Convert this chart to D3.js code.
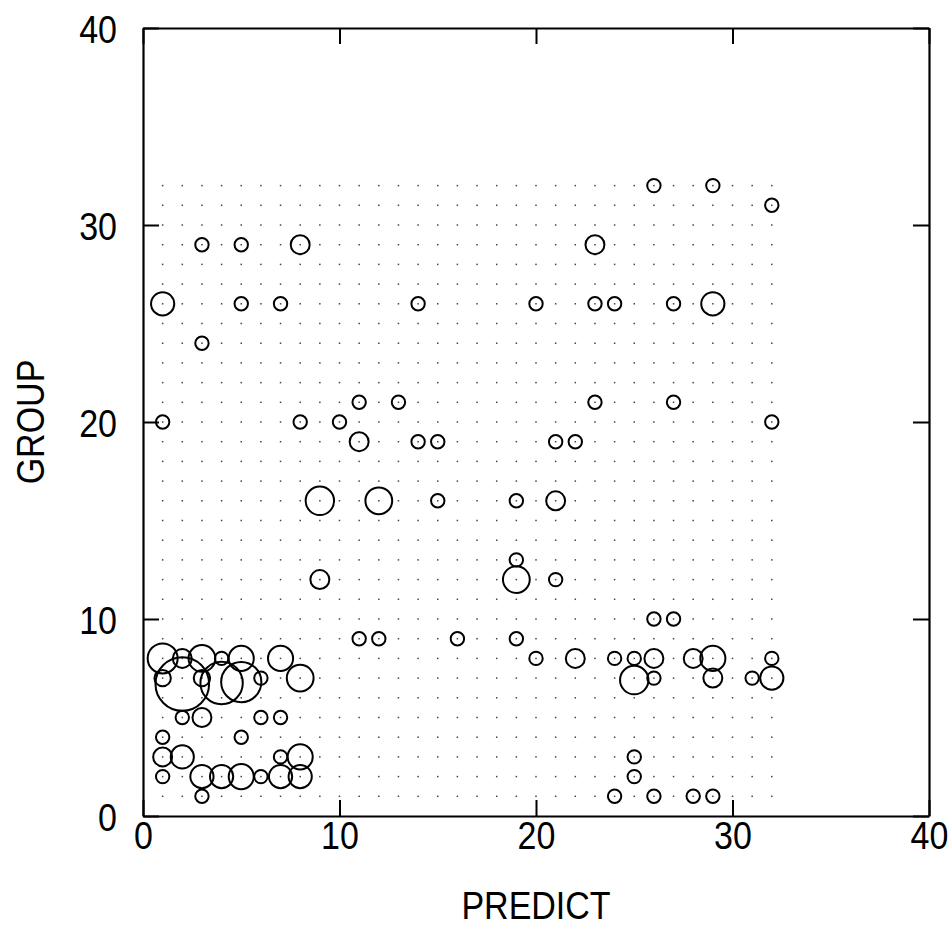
<!DOCTYPE html>
<html>
<head>
<meta charset="utf-8">
<script src="https://cdn.jsdelivr.net/npm/d3@7"></script>
<style>
  html, body { margin: 0; padding: 0; background: #fff; }
  svg { display: block; }
  text { font-family: "Liberation Sans", Arial, sans-serif; fill: #000; }
</style>
</head>
<body>
<svg id="chart" width="952" height="943"></svg>
<script>
// ---- data ----
const predict = [26,29,32, 3,5,8,23, 1,5,7,14,20,23,24,27,29, 3, 11,13,23,27, 1,8,10,32,
  11,14,15,21,22, 9,12,15,19,21, 19, 9,19,21, 26,27, 11,12,16,19,
  1,2,3,4,5,7,20,22,24,25,26,28,29,32,
  1,2,3,4,5,6,8,25,26,29,31,32,
  2,3,6,7, 1,5, 1,2,7,8,25, 1,3,4,5,6,7,8,25, 3,24,26,28,29];
const group = [32,32,31, 29,29,29,29, 26,26,26,26,26,26,26,26,26, 24, 21,21,21,21, 20,20,20,20,
  19,19,19,19,19, 16,16,16,16,16, 13, 12,12,12, 10,10, 9,9,9,9,
  8,8,8,8,8,8,8,8,8,8,8,8,8,8,
  7,6.7,7,6.75,6.8,7,7,6.9,7,7,7,7,
  5,5,5,5, 4,4, 3,3,3,3,3, 2,2,2,2,2,2,2,2, 1,1,1,1,1];
const count = [1,1,1, 1,1,2,2, 3,1,1,1,1,1,1,1,3, 1, 1,1,1,1, 1,1,1,1,
  2,1,1,1,1, 4.5,4,1,1,2, 1, 2,4,1, 1,1, 1,1,1,1,
  5,2,4,1,3.5,3.5,1,2,1,1,2,2,3.5,1,
  1.5,16,1.5,10,9,1,4,4.5,1,2,1,3,
  1,2,1,1, 1,1, 2,3,1,3.5,1, 1,3,3,3.5,1,3,3,1, 1,1,1,1,1];
const xTicks = [0, 10, 20, 30, 40];
const yTicks = [0, 10, 20, 30, 40];
const gridX = d3.range(1, 33);
const gridY = d3.range(1, 33);
const xTitle = "PREDICT";
const yTitle = "GROUP";

// ---- layout ----
const svg = d3.select("#chart");
const x = d3.scaleLinear().domain([0, 40]).range([143, 929]);
const y = d3.scaleLinear().domain([0, 40]).range([816, 28]);
const r = d3.scaleSqrt().domain([0, 16]).range([0, 26.8]);
const tickLen = 16;
const FONT = '"Liberation Sans", Arial, sans-serif';
const FS = "34px";
const SY = 1.16;   // vertical stretch to mimic the tall condensed face

// dot grid
const dots = [];
gridY.forEach(gy => gridX.forEach(gx => dots.push([gx, gy])));
svg.append("g").selectAll("rect").data(dots).join("rect")
  .attr("x", d => x(d[0]) - 0.75)
  .attr("y", d => y(d[1]) - 0.75)
  .attr("width", 1.5).attr("height", 1.5)
  .attr("fill", "#444");

// bubbles
const pts = predict.map((p, i) => ({x: p, y: group[i], n: count[i]}));
svg.append("g").selectAll("circle").data(pts).join("circle")
  .attr("cx", d => x(d.x))
  .attr("cy", d => y(d.y))
  .attr("r", d => r(d.n))
  .attr("fill", "none")
  .attr("stroke", "#000")
  .attr("stroke-width", 2);

// axes (inward ticks on all sides)
const fmt = d3.format("d");
const gB = svg.append("g").attr("transform", `translate(0,${y(0)})`)
  .call(d3.axisBottom(x).tickValues(xTicks).tickSizeInner(-tickLen).tickSizeOuter(0).tickFormat(fmt));
const gT = svg.append("g").attr("transform", `translate(0,${y(40)})`)
  .call(d3.axisTop(x).tickValues(xTicks).tickSizeInner(-tickLen).tickSizeOuter(0).tickFormat(""));
const gL = svg.append("g").attr("transform", `translate(${x(0)},0)`)
  .call(d3.axisLeft(y).tickValues(yTicks).tickSizeInner(-tickLen).tickSizeOuter(0).tickFormat(fmt));
const gR = svg.append("g").attr("transform", `translate(${x(40)},0)`)
  .call(d3.axisRight(y).tickValues(yTicks).tickSizeInner(-tickLen).tickSizeOuter(0).tickFormat(""));

[gB, gT, gL, gR].forEach(g => {
  g.select(".domain").attr("stroke", "#000").attr("stroke-width", 2.2);
  g.selectAll(".tick line").attr("stroke", "#000").attr("stroke-width", 2);
});
gB.selectAll(".tick text")
  .attr("y", 0).attr("dy", null)
  .attr("transform", `translate(0,33) scale(1,${SY})`)
  .style("font-size", FS).style("font-family", FONT)
  .attr("fill", "#000");
gL.selectAll(".tick text")
  .attr("x", 0).attr("dy", null)
  .attr("transform", `translate(-26,14) scale(1,${SY})`)
  .style("font-size", FS).style("font-family", FONT)
  .attr("fill", "#000");

// axis titles
svg.append("text")
  .attr("transform", `translate(${(x(0) + x(40)) / 2},919) scale(1,${SY})`)
  .attr("text-anchor", "middle")
  .style("font-size", FS)
  .text(xTitle);
svg.append("text")
  .attr("transform", `translate(44,${(y(0) + y(40)) / 2}) rotate(-90) scale(1,${SY})`)
  .attr("text-anchor", "middle")
  .style("font-size", FS)
  .text(yTitle);
</script>
</body>
</html>
